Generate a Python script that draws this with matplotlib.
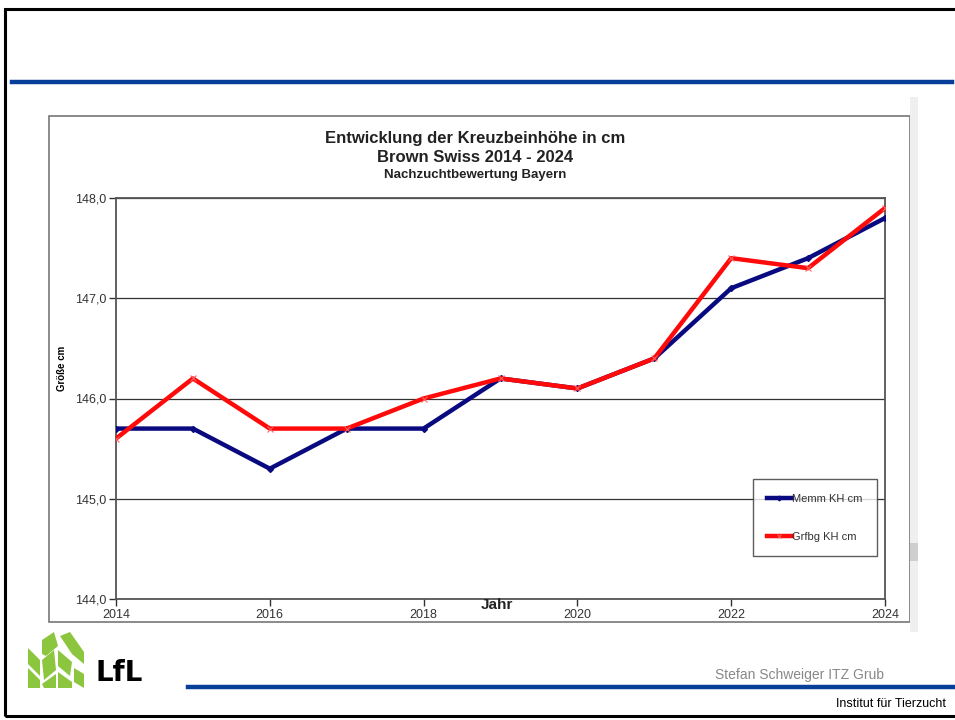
import matplotlib

matplotlib.use("Agg")
import matplotlib.pyplot as plt
from matplotlib.patches import Polygon, Rectangle
from matplotlib.lines import Line2D

plt.rcParams["font.family"] = ["Liberation Sans", "DejaVu Sans"]

# data
years = [2014, 2015, 2016, 2017, 2018, 2019, 2020, 2021, 2022, 2023, 2024]
memm_kh = [145.7, 145.7, 145.3, 145.7, 145.7, 146.2, 146.1, 146.4, 147.1, 147.4, 147.8]
grfbg_kh = [145.6, 146.2, 145.7, 145.7, 146.0, 146.2, 146.1, 146.4, 147.4, 147.3, 147.9]
x_ticks = [2014, 2016, 2018, 2020, 2022, 2024]
y_ticks = [144.0, 145.0, 146.0, 147.0, 148.0]

W, H = 955, 720


def px(x, y):
    """pixel coords (origin top left) -> figure fraction"""
    return x / W, 1 - y / H


fig = plt.figure(figsize=(W / 100, H / 100), dpi=100)
fig.patch.set_facecolor("white")

# slide frame and header line
fig.add_artist(Rectangle(px(5, 716), 1.0, (716 - 9) / H, transform=fig.transFigure,
                         fill=False, edgecolor="black", linewidth=2.2))
fig.add_artist(Line2D([12 / W, 952 / W], [1 - 82 / H] * 2, transform=fig.transFigure,
                      color="#063e9a", linewidth=3.2))

# chart panel and scrollbar
fig.add_artist(Rectangle(px(49, 622), (910 - 49) / W, (622 - 116) / H, transform=fig.transFigure,
                         fill=False, edgecolor="#777777", linewidth=1.2))
fig.add_artist(Rectangle(px(910, 632), 8 / W, (632 - 97) / H, transform=fig.transFigure,
                         facecolor="#efefef", edgecolor="none"))
fig.add_artist(Rectangle(px(910, 561), 8 / W, 18 / H, transform=fig.transFigure,
                         facecolor="#cfcfcf", edgecolor="none"))

# plot area
left, bottom = px(116, 599)
ax = fig.add_axes([left, bottom, (885 - 116) / W, (599 - 198) / H])
ax.plot(years, memm_kh, color="#0a0a80", linewidth=3.2, marker="D", markersize=3,
        label="Memm KH cm", zorder=3)
ax.plot(years, grfbg_kh, color="#ff0a0a", linewidth=3.2, marker="x", markersize=4,
        markeredgewidth=0.8, markeredgecolor="#ff6060", label="Grfbg KH cm", zorder=4)

ax.set_xlim(2014, 2024)
ax.set_ylim(144, 148)
ax.set_xticks(x_ticks)
ax.set_yticks(y_ticks)
ax.set_yticklabels([f"{v:.1f}".replace(".", ",") for v in y_ticks])
ax.tick_params(axis="both", direction="out", length=5, width=1, labelsize=9,
               labelcolor="#333333", color="#333333", pad=2)
ax.grid(axis="y", color="#333333", linewidth=0.9)
for s in ax.spines.values():
    s.set_color("#555555")
    s.set_linewidth(1.3)

ax.set_ylabel("Größe cm", fontsize=7, fontweight="bold")
ax.yaxis.set_label_coords((67 - 116) / 769, (599 - 368) / 401)

leg = ax.legend(loc="lower right", bbox_to_anchor=((877 - 116) / (885 - 116), (599 - 556) / (599 - 198)),
                borderaxespad=0, frameon=True, fancybox=False, edgecolor="#333333", fontsize=8,
                handlelength=2.2, handletextpad=0.05, labelspacing=2.5,
                borderpad=1.3, markerscale=0.8)
leg.get_frame().set_linewidth(1.0)
for t in leg.get_texts():
    t.set_color("#333333")

# titles
fig.text(*px(475, 139), "Entwicklung der Kreuzbeinhöhe in cm", fontsize=12, fontweight="bold",
         ha="center", va="center", color="#222222")
fig.text(*px(475, 157), "Brown Swiss 2014 - 2024", fontsize=12, fontweight="bold",
         ha="center", va="center", color="#222222")
fig.text(*px(475, 175), "Nachzuchtbewertung Bayern", fontsize=9.5, fontweight="bold",
         ha="center", va="center", color="#222222")
fig.text(*px(497, 605), "Jahr", fontsize=11, fontweight="bold", ha="center", va="center",
         color="#222222")

# footer
green = "#8cc63e"
leaves = [
    [(28, 648), (40, 660), (40, 676), (28, 664)],
    [(28, 668), (40, 680), (40, 688), (28, 688)],
    [(42, 640), (54, 632), (58, 646), (46, 656), (42, 654)],
    [(42, 660), (54, 650), (56, 670), (44, 680)],
    [(42, 684), (56, 674), (56, 688), (44, 688)],
    [(58, 650), (72, 662), (70, 676), (58, 666)],
    [(58, 672), (72, 682), (72, 688), (58, 688)],
    [(60, 636), (70, 632), (84, 652), (84, 664), (72, 654)],
    [(74, 668), (84, 674), (84, 688), (74, 682)],
]
for pts in leaves:
    fig.add_artist(Polygon([px(x, y) for x, y in pts], closed=True, transform=fig.transFigure,
                           facecolor=green, edgecolor="none"))
fig.text(*px(95, 673), "LfL", fontsize=20, fontweight="bold", ha="left", va="center",
         color="black", family=["DejaVu Sans"])

fig.text(*px(884, 675), "Stefan Schweiger ITZ Grub", fontsize=10, ha="right", va="center",
         color="#888888")
fig.add_artist(Line2D([188 / W, 1.0], [1 - 687 / H] * 2, transform=fig.transFigure,
                      color="#063e9a", linewidth=3.2))
fig.text(*px(946, 704), "Institut für Tierzucht", fontsize=9, ha="right", va="center",
         color="black")

fig.savefig("out.png", dpi=100)
